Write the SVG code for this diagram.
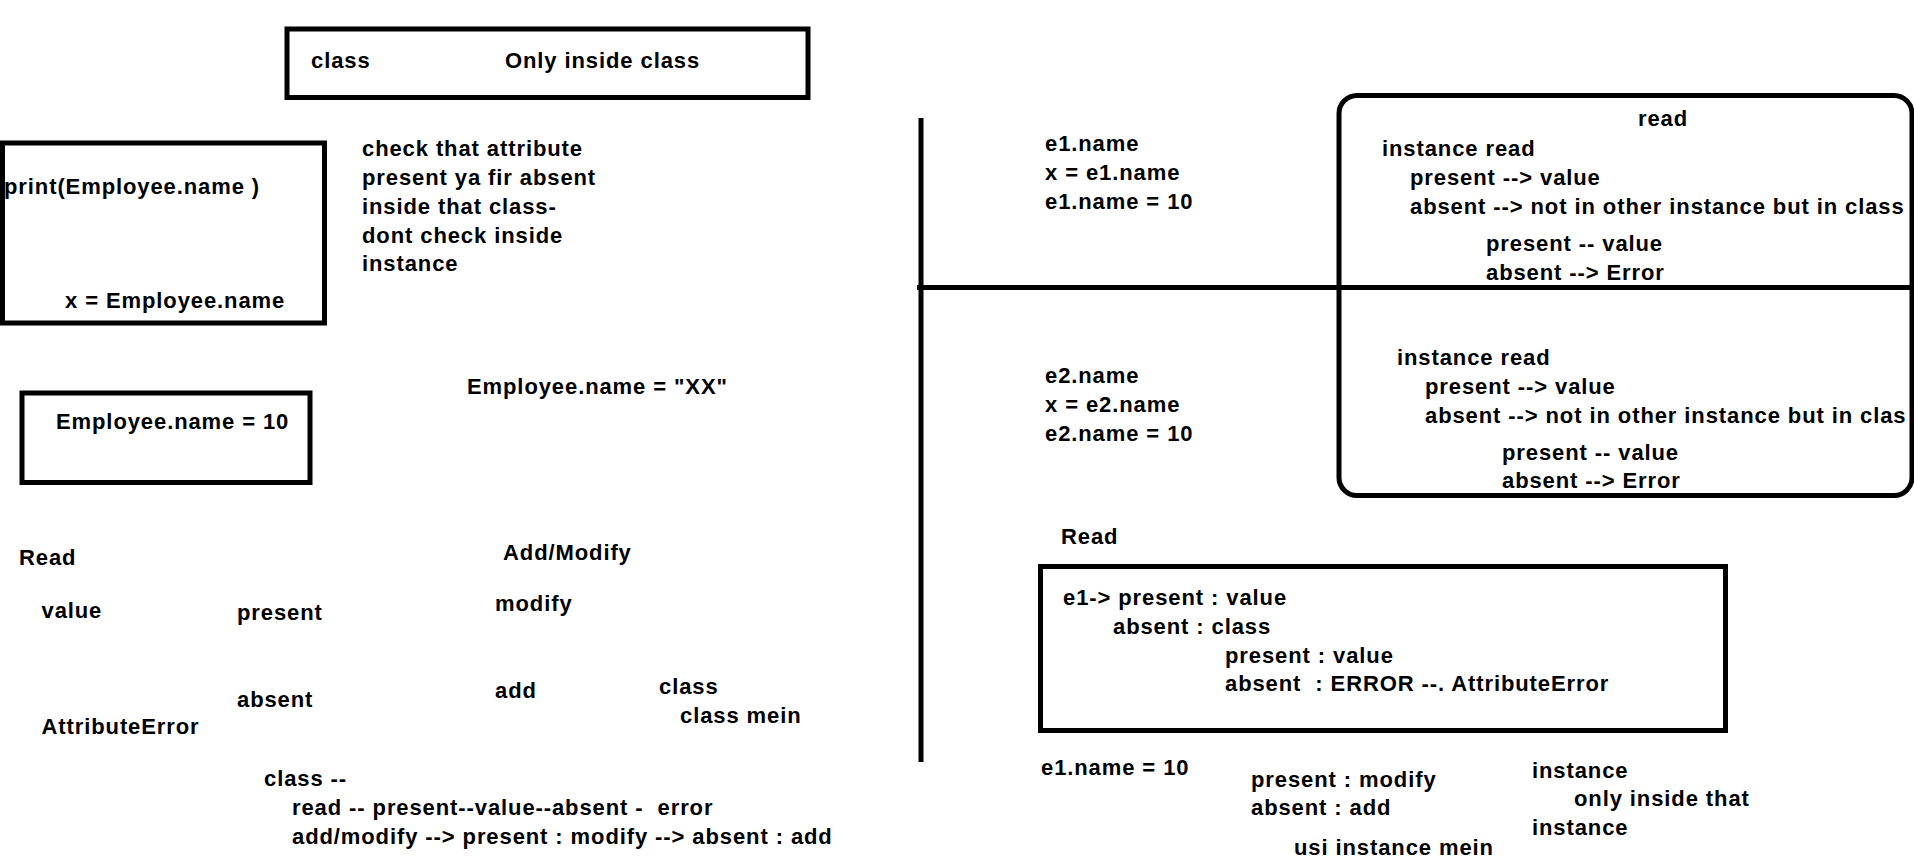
<svg xmlns="http://www.w3.org/2000/svg" width="1914" height="867" viewBox="0 0 1914 867">
<style>
text{font-family:"Liberation Sans",Arial,sans-serif;font-weight:bold;font-size:22px;letter-spacing:0.9px;fill:#000}
.box{fill:none;stroke:#000;stroke-width:5}
.ln{stroke:#000;stroke-width:5;fill:none}
</style>
<rect x="0" y="0" width="1914" height="867" fill="#fff"/>
<g id="lines">
<line class="ln" x1="921" y1="118" x2="921" y2="762"/>
<line class="ln" x1="917" y1="287.5" x2="1914" y2="287.5"/>
</g>
<g id="class-box">
<rect class="box" x="287" y="29" width="521" height="68.5"/>
<text x="311" y="67.5">class</text>
<text x="505" y="67.5">Only inside class</text>
</g>
<g id="print-box">
<rect class="box" x="2.5" y="143" width="322" height="180"/>
<text x="4" y="194">print(Employee.name )</text>
<text x="65" y="308">x = Employee.name</text>
</g>
<g id="check-note">
<text x="362" y="156">check that attribute</text>
<text x="362" y="185">present ya fir absent</text>
<text x="362" y="213.5">inside that class-</text>
<text x="362" y="242.5">dont check inside</text>
<text x="362" y="271">instance</text>
</g>
<g id="assign-box">
<rect class="box" x="22" y="393" width="288" height="89.5"/>
<text x="56" y="428.5">Employee.name = 10</text>
</g>
<g id="assign-xx">
<text x="467" y="393.5">Employee.name = "XX"</text>
</g>
<g id="read-left">
<text x="19" y="565">Read</text>
<text x="41.5" y="617.5">value</text>
<text x="41.5" y="734">AttributeError</text>
<text x="237" y="620">present</text>
<text x="237" y="706.5">absent</text>
</g>
<g id="addmodify">
<text x="503" y="560">Add/Modify</text>
<text x="495" y="611">modify</text>
<text x="495" y="697.5">add</text>
<text x="659" y="693.5">class</text>
<text x="680" y="722.5">class mein</text>
</g>
<g id="class-summary">
<text x="264" y="786">class --</text>
<text x="292" y="815" xml:space="preserve">read -- present--value--absent -  error</text>
<text x="292" y="844">add/modify --&gt; present : modify --&gt; absent : add</text>
</g>
<g id="e1-block">
<text x="1045" y="151">e1.name</text>
<text x="1045" y="180">x = e1.name</text>
<text x="1045" y="209">e1.name = 10</text>
</g>
<g id="e2-block">
<text x="1045" y="382.5">e2.name</text>
<text x="1045" y="411.5">x = e2.name</text>
<text x="1045" y="440.5">e2.name = 10</text>
</g>
<g id="read-box">
<rect class="box" x="1339" y="95.5" width="573" height="400" rx="18" ry="18"/>
<text x="1638" y="126">read</text>
<text x="1382" y="156">instance read</text>
<text x="1410" y="185">present --&gt; value</text>
<text x="1410" y="214">absent --&gt; not in other instance but in class</text>
<text x="1486" y="251">present -- value</text>
<text x="1486" y="280">absent --&gt; Error</text>
<text x="1397" y="365">instance read</text>
<text x="1425" y="393.5">present --&gt; value</text>
<text x="1425" y="422.5">absent --&gt; not in other instance but in clas</text>
<text x="1502" y="460">present -- value</text>
<text x="1502" y="487.5">absent --&gt; Error</text>
</g>
<g id="read-right">
<text x="1061" y="543.5">Read</text>
<rect class="box" x="1040.5" y="566.5" width="685" height="164"/>
<text x="1063" y="604.5">e1-&gt; present : value</text>
<text x="1113" y="633.5">absent : class</text>
<text x="1225" y="662.5">present : value</text>
<text x="1225" y="691" xml:space="preserve">absent  : ERROR --. AttributeError</text>
</g>
<g id="e1-assign">
<text x="1041" y="775">e1.name = 10</text>
<text x="1251" y="787">present : modify</text>
<text x="1251" y="815">absent : add</text>
<text x="1294" y="854.5">usi instance mein</text>
</g>
<g id="instance-note">
<text x="1532" y="777.5">instance</text>
<text x="1574" y="806">only inside that</text>
<text x="1532" y="835">instance</text>
</g>
</svg>
